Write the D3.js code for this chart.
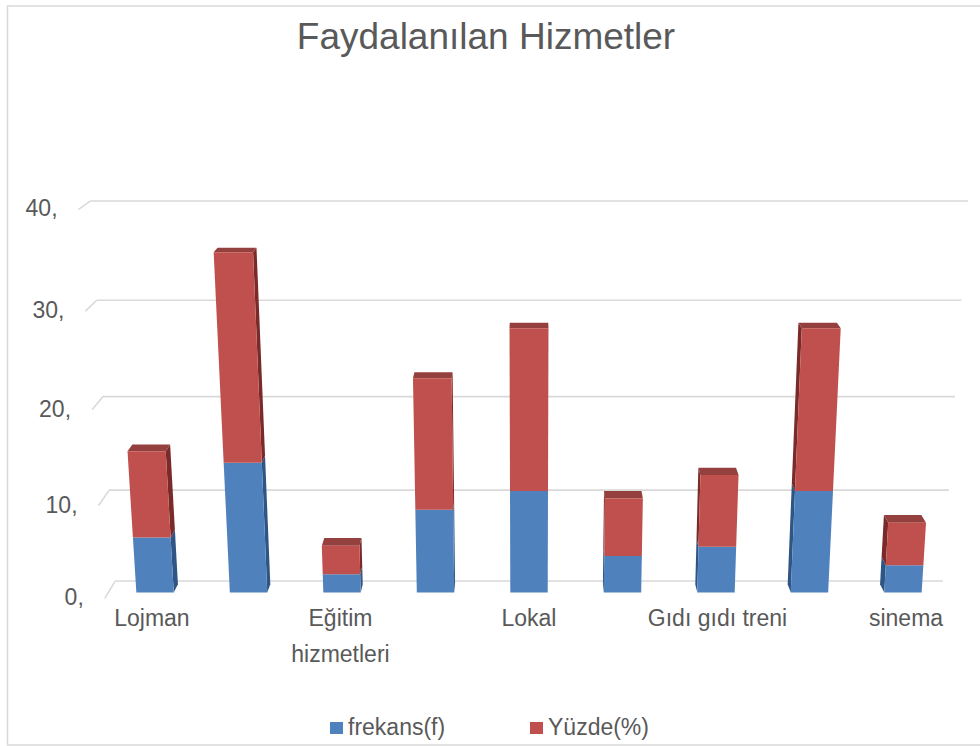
<!DOCTYPE html>
<html><head><meta charset="utf-8">
<script src="https://cdn.jsdelivr.net/npm/d3@7"></script>
<style>
body{margin:0;background:#fff}
text{font-family:"Liberation Sans",Arial,sans-serif;fill:#595959}
</style>
</head><body>
<svg id="c" width="980" height="746"></svg>
<script>
// ---- data ----
const title = "Faydalanılan Hizmetler";
const categories = ["Lojman", "", "Eğitim hizmetleri", "", "Lokal", "", "Gıdı gıdı treni", "", "sinema"];
const frekans = [6, 14, 2, 9, 11, 4, 5, 11, 3];
const yuzde = [9.2, 21.5, 3.1, 13.8, 16.9, 6.2, 7.7, 16.9, 4.6];
const seriesNames = ["frekans(f)", "Yüzde(%)"];
const yTicks = [0, 10, 20, 30, 40];
const yTickLabels = ["0,", "10,", "20,", "30,", "40,"];

// ---- styling / layout ----
const frontColors = ["#4F81BD", "#C0504D"];
const sideColors = ["#2F5584", "#7A2B29"];
const topColor = "#94403E";

const svg = d3.select("#c");

// perspective camera (world units)
const F = 1828, CX = 529, CY = 400, TILT = Math.atan(0.282), CAMH = 392;
const sT = Math.sin(TILT), cT = Math.cos(TILT);
function proj(X, Y, Z) {
  const yr = Y - CAMH;
  const zc = -yr * sT + Z * cT;
  const yc = yr * cT + Z * sT;
  return [CX + F * X / zc, CY - F * yc / zc];
}
const Z_BACK = 1000, Z_FLOOR_FRONT = 973, Z_BAR_FRONT = 982, Z_BAR_BACK = 995;
const HALF_W = 242;

const x = d3.scaleBand().domain(d3.range(categories.length)).range([-HALF_W, HALF_W])
  .paddingInner(0.6).paddingOuter(0.3);
const y = d3.scaleLinear().domain([0, 40]).range([0, 224]);

// frame
svg.append("rect").attr("x", 7.5).attr("y", 6).attr("width", 990).attr("height", 739)
  .attr("fill", "#fff").attr("stroke", "#d9d9d9").attr("stroke-width", 1.5);

// title
svg.append("text").attr("x", 486).attr("y", 49).attr("text-anchor", "middle")
  .style("font-size", "37px").text(title);

// gridlines on back wall + side wall stubs
const line = d3.line();
const grid = svg.append("g");
yTicks.forEach((t, i) => {
  const a = proj(-HALF_W, y(t), Z_BACK), b = proj(HALF_W, y(t), Z_BACK), f = proj(-HALF_W, y(t), Z_FLOOR_FRONT);
  grid.append("path").attr("d", line([a, b])).attr("stroke", "#d9d9d9").attr("stroke-width", 1.6).attr("fill", "none");
  grid.append("path").attr("d", line([f, a])).attr("stroke", "#d9d9d9").attr("stroke-width", 1.6).attr("fill", "none");
  grid.append("text").attr("x", f[0] - 21).attr("y", f[1] + 1).attr("text-anchor", "end")
    .attr("dominant-baseline", "middle").style("font-size", "23px").text(yTickLabels[i]);
});

// bars
const stack = d3.stack().keys([0, 1]).value((d, k) => d[k]);
const rows = categories.map((c, i) => [frekans[i], yuzde[i]]);
const series = stack(rows);
const barsG = svg.append("g");
const poly = pts => "M" + pts.map(p => p.join(",")).join("L") + "Z";
categories.forEach((c, i) => {
  const X0 = x(i), X1 = x(i) + x.bandwidth();
  const g = barsG.append("g");
  series.forEach((s, k) => {
    const Y0 = y(s[i][0]), Y1 = y(s[i][1]);
    const zf = Z_BAR_FRONT, zb = Z_BAR_BACK;
    if (X1 < 0) {
      g.append("path").attr("d", poly([proj(X1, Y0, zf), proj(X1, Y0, zb), proj(X1, Y1, zb), proj(X1, Y1, zf)]))
        .attr("fill", sideColors[k]);
    } else if (X0 > 0) {
      g.append("path").attr("d", poly([proj(X0, Y0, zf), proj(X0, Y0, zb), proj(X0, Y1, zb), proj(X0, Y1, zf)]))
        .attr("fill", sideColors[k]);
    }
    if (k === series.length - 1) {
      g.append("path").attr("d", poly([proj(X0, Y1, zf), proj(X1, Y1, zf), proj(X1, Y1, zb), proj(X0, Y1, zb)]))
        .attr("fill", topColor);
    }
    g.append("path").attr("d", poly([proj(X0, Y0, zf), proj(X1, Y0, zf), proj(X1, Y1, zf), proj(X0, Y1, zf)]))
      .attr("fill", frontColors[k]);
  });
});

// category labels (every other one, as in the original)
const labG = svg.append("g");
categories.forEach((c, i) => {
  if (i % 2 !== 0 || !c) return;
  const p = proj(x(i) + x.bandwidth() / 2, 0, Z_FLOOR_FRONT);
  const t = labG.append("text").attr("x", p[0]).attr("y", p[1] + 28).attr("text-anchor", "middle")
    .style("font-size", "23px");
  const words = c.split(" ");
  let lines = [], cur = [];
  const probe = labG.append("text").style("font-size", "23px");
  words.forEach(w => {
    const test = cur.concat([w]).join(" ");
    probe.text(test);
    if (probe.node().getComputedTextLength() > 160 && cur.length) { lines.push(cur.join(" ")); cur = [w]; }
    else cur.push(w);
  });
  lines.push(cur.join(" "));
  probe.remove();
  lines.forEach((l, j) => t.append("tspan").attr("x", p[0]).attr("dy", j === 0 ? 0 : 36).text(l));
});

// legend
const legX = [330, 530];
seriesNames.forEach((n, k) => {
  svg.append("rect").attr("x", legX[k]).attr("y", 722).attr("width", 13).attr("height", 12).attr("fill", frontColors[k]);
  svg.append("text").attr("x", legX[k] + 18).attr("y", 735).style("font-size", "23px").text(n);
});
</script>
</body></html>
